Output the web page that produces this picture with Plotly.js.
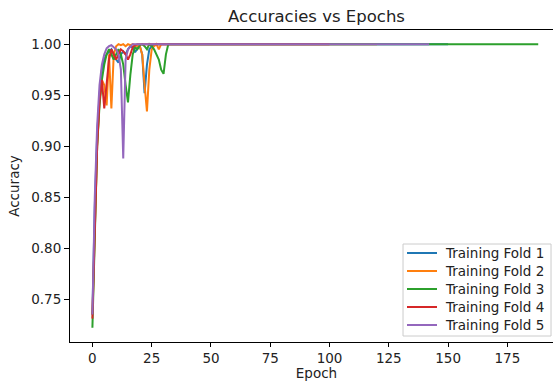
<!DOCTYPE html>
<html>
<head>
<meta charset="utf-8">
<script src="https://cdn.plot.ly/plotly-3.0.1.min.js"></script>
<style>
html, body { margin: 0; padding: 0; overflow: hidden; background: #fff; }
#chart { width: 580px; height: 381px; }
</style>
</head>
<body>
<div id="chart"></div>
<script>
// Early-epoch accuracies per fold (index = epoch); after these the curves stay at 1.0
const fold1Early = [0.735, 0.84, 0.91, 0.95, 0.975, 0.985, 0.99, 0.993, 0.995, 0.99, 0.985, 0.982, 0.99, 0.993, 0.99, 0.995, 0.998, 0.997, 0.992, 0.996, 0.998, 0.99, 0.952, 0.98, 0.995, 0.998, 0.999, 1.0];
const fold2Early = [0.735, 0.83, 0.90, 0.945, 0.965, 0.96, 0.94, 0.99, 0.937, 0.99, 0.998, 1.0, 0.999, 1.0, 0.998, 1.0, 0.999, 1.0, 0.999, 0.998, 0.998, 0.99, 0.96, 0.934, 0.975, 0.995, 0.998, 1.0, 0.995, 1.0];
const fold3Early = [0.722, 0.82, 0.90, 0.94, 0.965, 0.98, 0.99, 0.995, 0.99, 0.985, 0.99, 0.995, 0.99, 0.98, 0.96, 0.943, 0.97, 0.99, 0.997, 0.995, 0.999, 1.0, 0.998, 0.995, 1.0, 0.998, 0.995, 0.99, 0.985, 0.975, 0.971, 0.99, 1.0];
const fold4Early = [0.731, 0.83, 0.90, 0.945, 0.965, 0.937, 0.96, 0.985, 0.995, 0.99, 0.985, 0.99, 0.995, 0.993, 0.99, 0.985, 0.99, 0.997, 0.999, 1.0];
const fold5Early = [0.735, 0.85, 0.92, 0.96, 0.98, 0.99, 0.996, 0.998, 0.999, 0.997, 0.995, 0.99, 0.975, 0.888, 0.985, 0.995, 0.998, 1.0];
// Last epoch of each fold (plateau at 1.0 until then)
const lastEpochs = [150, 120, 188, 100, 142];
const foldNames = ["Training Fold 1", "Training Fold 2", "Training Fold 3", "Training Fold 4", "Training Fold 5"];
const foldColors = ["#1f77b4", "#ff7f0e", "#2ca02c", "#d62728", "#9467bd"];
const yTicks = [0.75, 0.80, 0.85, 0.90, 0.95, 1.00];
const xTicks = [0, 25, 50, 75, 100, 125, 150, 175];

const early = [fold1Early, fold2Early, fold3Early, fold4Early, fold5Early];
const traces = early.map((vals, k) => ({
  type: 'scatter', mode: 'lines',
  name: foldNames[k],
  x: vals.map((_, i) => i).concat([lastEpochs[k]]),
  y: vals.concat([1.0]),
  line: { color: foldColors[k], width: 2 }
}));

// Legend drawn in paper coordinates (matplotlib-style lower-right box)
const legBox = { x0: 0.6755, x1: 0.9757, y0: 0.0192, y1: 0.3141 };
const legRowTop = 0.2853, legRowStep = 0.0577;
const legLineX0 = 0.6836, legLineX1 = 0.7444, legTextX = 0.7566;
const shapes = [{
  type: 'rect', xref: 'paper', yref: 'paper',
  x0: legBox.x0, x1: legBox.x1, y0: legBox.y0, y1: legBox.y1,
  line: { color: '#cccccc', width: 1 }, fillcolor: 'rgba(255,255,255,0.8)', layer: 'above'
}].concat(foldNames.map((n, k) => ({
  type: 'line', xref: 'paper', yref: 'paper',
  x0: legLineX0, x1: legLineX1, y0: legRowTop - k * legRowStep, y1: legRowTop - k * legRowStep,
  line: { color: foldColors[k], width: 2 }, layer: 'above'
})));
const font = { family: 'DejaVu Sans, sans-serif', size: 13.5, color: '#222' };
const annotations = foldNames.map((n, k) => ({
  xref: 'paper', yref: 'paper', x: legTextX, y: legRowTop - k * legRowStep,
  xanchor: 'left', yanchor: 'middle', text: n, showarrow: false, font: font
}));

const layout = {
  width: 580, height: 381,
  margin: { l: 70, r: 17, t: 30, b: 39 },
  paper_bgcolor: '#fff', plot_bgcolor: '#fff',
  font: font,
  title: { text: 'Accuracies vs Epochs', font: { family: 'DejaVu Sans, sans-serif', size: 16.5, color: '#222' }, x: 0.5, xref: 'paper', xanchor: 'center', y: 0.958, yref: 'container', yanchor: 'middle' },
  xaxis: {
    range: [-9.45, 198.45], tickvals: xTicks, ticktext: xTicks.map(String),
    showgrid: false, zeroline: false, showline: true, linecolor: '#000', linewidth: 1, mirror: true,
    ticks: 'outside', ticklen: 4, tickcolor: '#000',
    title: { text: 'Epoch', font: font, standoff: 6 }
  },
  yaxis: {
    range: [0.7081, 1.0139], tickvals: yTicks, ticktext: yTicks.map(v => v.toFixed(2)),
    showgrid: false, zeroline: false, showline: true, linecolor: '#000', linewidth: 1, mirror: true,
    ticks: 'outside', ticklen: 5, tickcolor: '#000',
    title: { text: 'Accuracy', font: font, standoff: 8 }
  },
  showlegend: false,
  shapes: shapes,
  annotations: annotations
};
Plotly.newPlot('chart', traces, layout, { displayModeBar: false, staticPlot: true });
</script>
</body>
</html>
